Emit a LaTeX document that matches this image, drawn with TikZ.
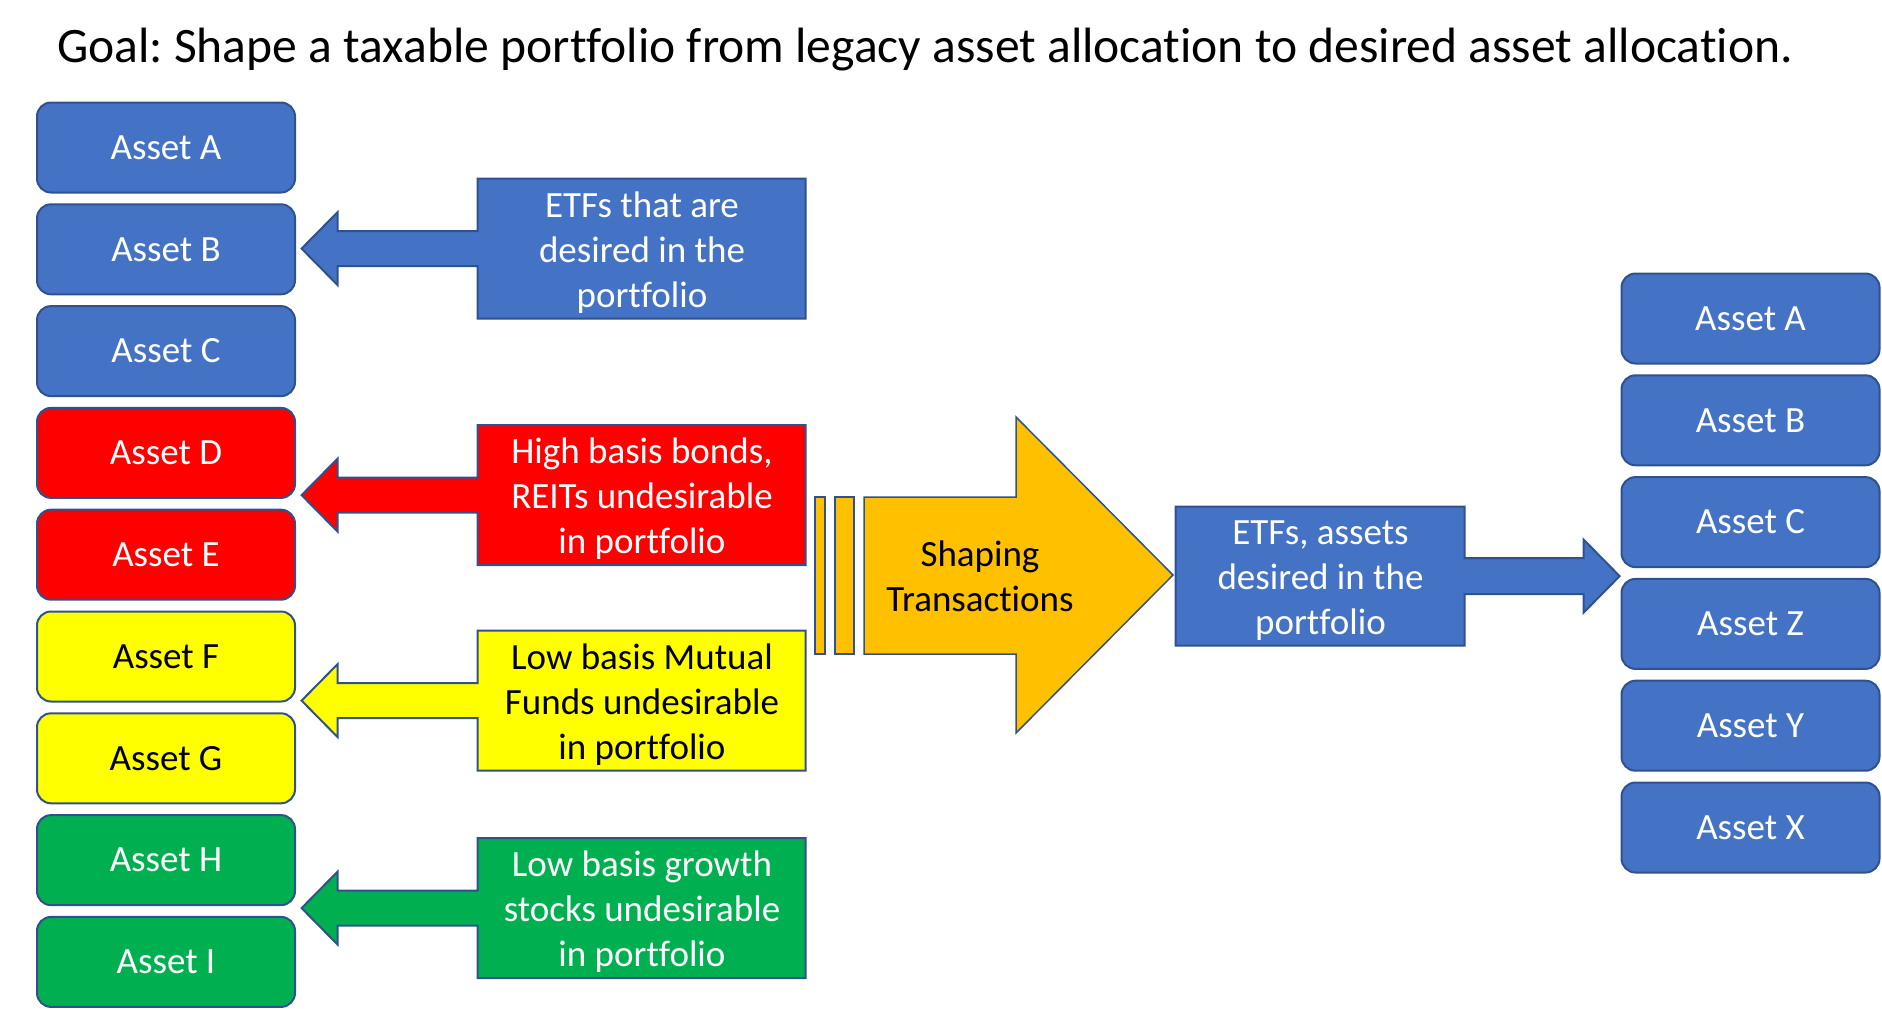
\documentclass[tikz,border=0pt]{standalone}
\usepackage{fontspec}
\setmainfont{Carlito}[Ligatures=CommonOff]
\frenchspacing
\usetikzlibrary{backgrounds,calc}
\definecolor{offblue}{HTML}{4472C4}
\definecolor{edgeblue}{HTML}{2F528F}
\definecolor{offred}{HTML}{FF0000}
\definecolor{offyellow}{HTML}{FFFF00}
\definecolor{offgreen}{HTML}{00B050}
\definecolor{offorange}{HTML}{FFC000}
\tikzset{
  asset/.style={draw=edgeblue,line width=1pt,rounded corners=7pt,minimum width=129pt,minimum height=45pt,inner sep=0pt,font=\fontsize{18.5}{22.5}\selectfont},
  callout/.style={minimum width=164pt,minimum height=70pt,inner sep=0pt,align=center,font=\fontsize{18.5}{22.5}\selectfont},
  calledge/.style={draw=edgeblue,line width=1pt,line join=miter},
}
% left callout: box plus block arrow pointing left (text sits a bit low)
\newcommand{\leftcall}[2]{\draw[calledge,fill=#2] ($(#1.north west)+(0,-3.6)$) -- ++(328,0) -- ++(0,140) -- ++(-328,0) -- ++(0,-52.5) -- ++(-140,0) -- ++(0,19) -- ++(-36,-36.5) -- ++(36,-36.5) -- ++(0,19) -- ++(140,0) -- cycle;}
\begin{document}
\begin{tikzpicture}[x=0.5pt,y=-0.5pt]
\useasboundingbox (0,0) rectangle (1882,1008);
\node[anchor=base west,font=\fontsize{24.8}{30}\selectfont] (goal) at (50,62) {Goal: Shape a taxable portfolio from legacy asset allocation to desired asset allocation.};
% legacy allocation
\node[asset,fill=offblue,text=white] (lA) at (166,147.5) {Asset A};
\node[asset,fill=offblue,text=white] (lB) at (166,249.3) {Asset B};
\node[asset,fill=offblue,text=white] (lC) at (166,351.1) {Asset C};
\node[asset,fill=offred,text=white] (lD) at (166,452.9) {Asset D};
\node[asset,fill=offred,text=white] (lE) at (166,554.7) {Asset E};
\node[asset,fill=offyellow] (lF) at (166,656.5) {Asset F};
\node[asset,fill=offyellow] (lG) at (166,758.3) {Asset G};
\node[asset,fill=offgreen,text=white] (lH) at (166,860.1) {Asset H};
\node[asset,fill=offgreen,text=white] (lI) at (166,961.9) {Asset I};
% callouts
\node[callout,text=white] (cEtf) at (642,252.6) {ETFs that are\\desired in the\\portfolio};
\node[callout,text=white] (cBond) at (642,499.1) {High basis bonds,\\REITs undesirable\\in portfolio};
\node[callout] (cFund) at (642,704.6) {Low basis Mutual\\Funds undesirable\\in portfolio};
\node[callout,text=white] (cStock) at (642,912.1) {Low basis growth\\stocks undesirable\\in portfolio};
\begin{scope}[on background layer]
\leftcall{cEtf}{offblue}
\leftcall{cBond}{offred}
\leftcall{cFund}{offyellow}
\leftcall{cStock}{offgreen}
\end{scope}
% striped shaping arrow
\draw[draw=edgeblue,line width=0.75pt,fill=offorange] (815,497) rectangle (825,654);
\draw[draw=edgeblue,line width=0.75pt,fill=offorange] (835,497) rectangle (854,654);
\draw[draw=edgeblue,line width=0.75pt,fill=offorange,line join=miter] (864,497) -- (1016,497) -- (1016,417) -- (1173,575) -- (1016,733) -- (1016,654) -- (864,654) -- cycle;
\node[align=center,font=\fontsize{18.5}{22.5}\selectfont] (shp) at (980,576.5) {Shaping\\Transactions};
% desired allocation
\node[callout,minimum width=144.5pt,minimum height=69.5pt,text=white] (cNew) at (1320.5,580.1) {ETFs, assets\\desired in the\\portfolio};
\begin{scope}[on background layer]
\draw[calledge,fill=offblue] ($(cNew.north west)+(0,-3.6)$) -- ++(289,0) -- ++(0,51.5) -- ++(119,0) -- ++(0,-18.5) -- ++(36,36.5) -- ++(-36,36.5) -- ++(0,-18.5) -- ++(-119,0) -- ++(0,51.5) -- ++(-289,0) -- cycle;
\end{scope}
\node[asset,fill=offblue,text=white] (rA) at (1750.5,318.5) {Asset A};
\node[asset,fill=offblue,text=white] (rB) at (1750.5,420.3) {Asset B};
\node[asset,fill=offblue,text=white] (rC) at (1750.5,522.1) {Asset C};
\node[asset,fill=offblue,text=white] (rZ) at (1750.5,623.9) {Asset Z};
\node[asset,fill=offblue,text=white] (rY) at (1750.5,725.7) {Asset Y};
\node[asset,fill=offblue,text=white] (rX) at (1750.5,827.5) {Asset X};
\end{tikzpicture}
\end{document}
